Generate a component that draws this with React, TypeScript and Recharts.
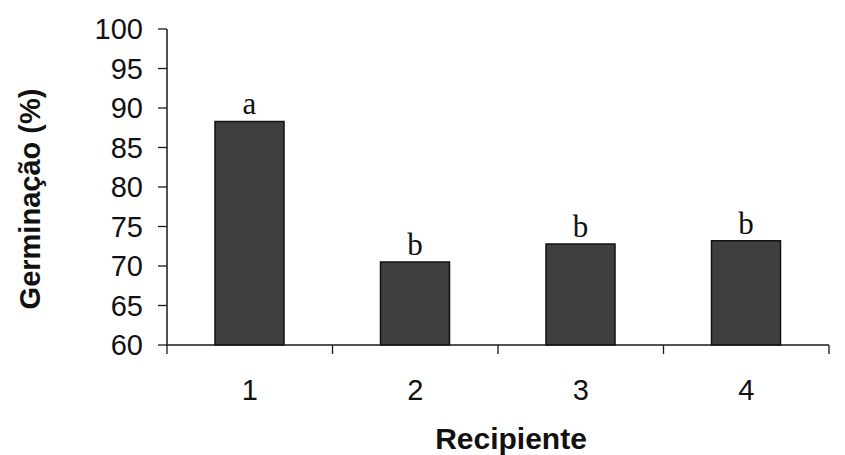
import React from "react";
import { BarChart, Bar, XAxis, YAxis, LabelList } from "recharts";

const recipientes = ["1", "2", "3", "4"];
const germinacao = [88.3, 70.5, 72.8, 73.2];
const letras = ["a", "b", "b", "b"];
const yTicks = [60, 65, 70, 75, 80, 85, 90, 95, 100];

const data = recipientes.map((r, i) => ({ recipiente: r, germinacao: germinacao[i], letra: letras[i] }));

const W = 845;
const H = 455;
const MARGIN = { top: 29, right: 16, left: 0, bottom: 0 };
const Y_AXIS_W = 167;
const BAND = (W - MARGIN.left - MARGIN.right - Y_AXIS_W) / recipientes.length;

const SANS = "'Liberation Sans', Arial, sans-serif";
const SERIF = "'Liberation Serif', 'Times New Roman', serif";
const AXIS = "#1a1a1a";

const XTick = ({ x, y, payload, index }: any) => {
  const left = x - BAND / 2;
  const right = x + BAND / 2;
  return (
    <g>
      <line x1={left} y1={y} x2={left} y2={y + 9} stroke={AXIS} strokeWidth={1.3} />
      {index === recipientes.length - 1 && (
        <line x1={right} y1={y} x2={right} y2={y + 9} stroke={AXIS} strokeWidth={1.3} />
      )}
      <text x={x} y={y + 55} textAnchor="middle" fontFamily={SANS} fontSize={29} fill="#111">
        {payload.value}
      </text>
    </g>
  );
};

const YLabel = ({ viewBox }: any) => {
  const cx = 30;
  const cy = viewBox.y + viewBox.height / 2 + 12;
  return (
    <text
      x={cx}
      y={cy}
      transform={`rotate(-90 ${cx} ${cy})`}
      textAnchor="middle"
      dominantBaseline="central"
      fontFamily={SANS}
      fontWeight="bold"
      fontSize={29}
      fill="#111"
    >
      Germinação (%)
    </text>
  );
};

const XLabel = ({ viewBox }: any) => {
  const cx = viewBox.x + viewBox.width / 2 + 13;
  return (
    <text x={cx} y={449} textAnchor="middle" fontFamily={SANS} fontWeight="bold" fontSize={30} fill="#111">
      Recipiente
    </text>
  );
};

export default function App() {
  return (
    <div style={{ width: W, height: H, background: "#fff" }}>
      <style>{"body{margin:0}"}</style>
      <BarChart width={W} height={H} data={data} margin={MARGIN} barSize={69}>
        <XAxis
          dataKey="recipiente"
          height={H - 345 - MARGIN.bottom}
          tick={<XTick />}
          tickLine={false}
          tickSize={0}
          tickMargin={0}
          axisLine={{ stroke: AXIS, strokeWidth: 1.5 }}
          label={<XLabel />}
        />
        <YAxis
          domain={[60, 100]}
          ticks={yTicks}
          interval={0}
          width={Y_AXIS_W}
          tickSize={9}
          tickMargin={15}
          tick={{ fontFamily: SANS, fontSize: 29, fill: "#111" }}
          tickLine={{ stroke: AXIS, strokeWidth: 1.3 }}
          axisLine={{ stroke: AXIS, strokeWidth: 1.5 }}
          label={<YLabel />}
        />
        <Bar dataKey="germinacao" fill="#3f3f3f" stroke="#111" strokeWidth={1.5} isAnimationActive={false}>
          <LabelList dataKey="letra" position="top" offset={7} fontFamily={SERIF} fontSize={31} fill="#111" />
        </Bar>
      </BarChart>
    </div>
  );
}
